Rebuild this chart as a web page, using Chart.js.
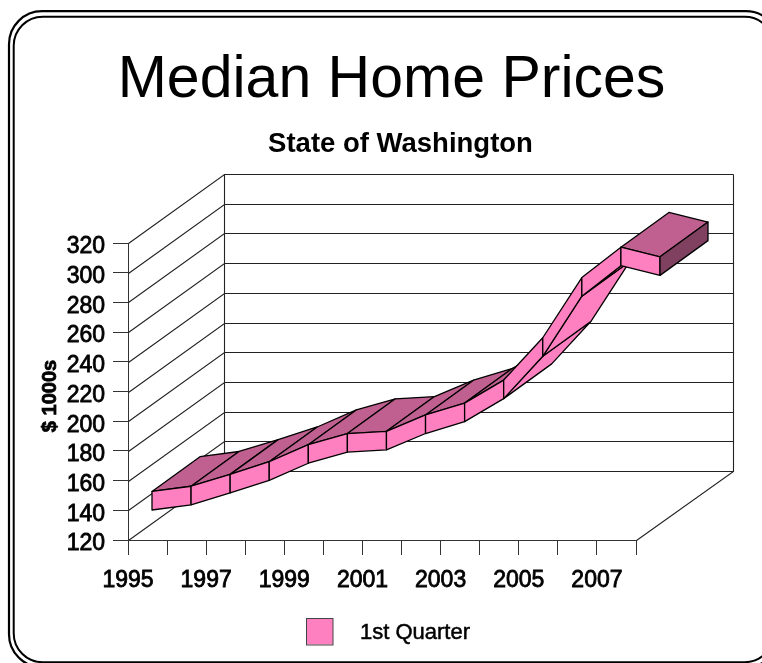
<!DOCTYPE html>
<html>
<head>
<meta charset="utf-8">
<title>Median Home Prices</title>
<script src="https://cdn.jsdelivr.net/npm/chart.js@4/dist/chart.umd.min.js"></script>
<style>
  html, body { margin: 0; padding: 0; background: #fff; overflow: hidden; }
  canvas { display: block; }
</style>
</head>
<body>
<canvas id="chart" width="762" height="663"></canvas>
<script>
const years = [1995, 1996, 1997, 1998, 1999, 2000, 2001, 2002, 2003, 2004, 2005, 2006, 2007, 2008];
const firstQuarter = [141, 144.5, 152.5, 161, 172.5, 180, 181.5, 192.5, 200.5, 216, 244.5, 285, 305.5, 299];
const yearLabels = ['1995', '1997', '1999', '2001', '2003', '2005', '2007'];
const seriesName = '1st Quarter';
const yAxisName = '$ 1000s';

// depth of the 3d box, in pixels
const depthX = 96;
const depthY = 69.5;
const ribbonFront = 0.25;
const ribbonBack = 0.75;
const ribbonThick = 12.5; // in $1000s

const PINK = '#FF80C0';
const PINK_TOP = '#C06090';
const PINK_SIDE = '#804060';
const fontName = '"Liberation Sans", Arial, sans-serif';

function poly(ctx, pts, fill) {
  ctx.beginPath();
  pts.forEach((p, i) => i ? ctx.lineTo(p[0], p[1]) : ctx.moveTo(p[0], p[1]));
  ctx.closePath();
  ctx.fillStyle = fill;
  ctx.fill();
  ctx.stroke();
}

function heavyText(ctx, text, x, y, size, stroke) {
  ctx.fillStyle = '#000';
  ctx.strokeStyle = '#000';
  ctx.lineWidth = stroke;
  ctx.font = size;
  ctx.fillText(text, x, y);
  ctx.strokeText(text, x, y);
}

const frame3d = {
  id: 'frame3d',
  afterLayout(chart) {
    // the two title lines are not centred on the page in the original
    chart.boxes.forEach(b => {
      if (b.options && b.options.text === 'Median Home Prices') { b.left = 10.5; b.right = 772.5; }
      if (b.options && b.options.text === 'State of Washington') { b.left = 19.5; b.right = 781.5; }
    });
  },
  beforeDraw(chart) {
    const ctx = chart.ctx;
    ctx.save();
    ctx.strokeStyle = '#000';
    ctx.lineWidth = 2.2;
    ctx.beginPath();
    ctx.roundRect(9, 11.2, 770, 656, 33);
    ctx.stroke();
    ctx.lineWidth = 2;
    ctx.beginPath();
    ctx.roundRect(13.7, 16.7, 760, 645.5, 29);
    ctx.stroke();
    ctx.restore();
  },
  beforeDatasetsDraw(chart) {
    const ctx = chart.ctx;
    const xs = chart.scales.x;
    const ys = chart.scales.y;
    const l = Math.round(xs.left) + 0.5;
    const r = Math.round(xs.right) + 0.5;
    const backL = l + depthX;
    const backR = r + depthX + 1;

    // walls
    ctx.save();
    ctx.strokeStyle = '#222';
    ctx.lineWidth = 1.1;
    ctx.beginPath();
    ys.ticks.forEach(t => {
      const py = Math.round(ys.getPixelForValue(t.value)) + 0.5;
      const by = Math.round(py - depthY) + 0.5;
      ctx.moveTo(l, py);
      ctx.lineTo(backL, by);
      ctx.lineTo(backR, by);
    });
    const top = Math.round(Math.round(ys.top) + 0.5 - depthY) + 0.5;
    const bot = Math.round(ys.bottom) + 0.5;
    const botBack = Math.round(bot - depthY) + 0.5;
    ctx.moveTo(backL, top);
    ctx.lineTo(backL, botBack);
    ctx.moveTo(backR, top);
    ctx.lineTo(backR, botBack);
    ctx.lineTo(r, bot);
    ctx.stroke();
    ctx.restore();

    // ribbon, painted left to right
    const pts = chart.getDatasetMeta(0).data;
    const thick = ys.getPixelForValue(ys.min) - ys.getPixelForValue(ys.min + ribbonThick);
    const at = (i, z, low) => [
      pts[i].x + z * depthX,
      pts[i].y - z * depthY + (low ? thick : 0)
    ];
    ctx.save();
    ctx.strokeStyle = '#000';
    ctx.lineWidth = 1.3;
    ctx.lineJoin = 'round';
    for (let i = 0; i < pts.length - 1; i++) {
      const sx = pts[i + 1].x - pts[i].x;
      const sy = pts[i + 1].y - pts[i].y;
      const dz = ribbonBack - ribbonFront;
      const topVisible = sx * (-depthY * dz) - sy * (depthX * dz) < 0;
      if (topVisible) {
        poly(ctx, [at(i, ribbonFront), at(i, ribbonBack), at(i + 1, ribbonBack), at(i + 1, ribbonFront)], PINK_TOP);
      } else {
        poly(ctx, [at(i, ribbonFront, true), at(i, ribbonBack, true), at(i + 1, ribbonBack, true), at(i + 1, ribbonFront, true)], PINK);
      }
      poly(ctx, [at(i, ribbonFront), at(i + 1, ribbonFront), at(i + 1, ribbonFront, true), at(i, ribbonFront, true)], PINK);
    }
    const last = pts.length - 1;
    poly(ctx, [at(last, ribbonFront), at(last, ribbonBack), at(last, ribbonBack, true), at(last, ribbonFront, true)], PINK_SIDE);
    ctx.restore();
  },
  afterDraw(chart) {
    const ctx = chart.ctx;
    ctx.save();
    // legend, the gap between swatch and text is wider than the stock legend allows
    ctx.fillStyle = PINK;
    ctx.strokeStyle = '#444';
    ctx.lineWidth = 1;
    ctx.fillRect(307, 618.5, 26, 26);
    ctx.strokeRect(306.5, 618.5, 26.5, 26.5);
    ctx.textBaseline = 'middle';
    heavyText(ctx, chart.data.datasets[0].label, 360, 633, '22px ' + fontName, 0.5);
    // y axis name sits lower than the axis middle, so not the scale title
    ctx.translate(50, 396);
    ctx.rotate(-Math.PI / 2);
    ctx.textAlign = 'center';
    heavyText(ctx, yAxisName, 0, 0, 'bold 20px ' + fontName, 0.8);
    ctx.restore();
  }
};

new Chart(document.getElementById('chart'), {
  type: 'line',
  data: {
    datasets: [{
      label: seriesName,
      data: years.map((y, i) => ({ x: y, y: firstQuarter[i] })),
      showLine: false,
      pointRadius: 0,
      pointHoverRadius: 0,
      borderColor: PINK,
      backgroundColor: PINK
    }]
  },
  options: {
    responsive: false,
    animation: false,
    layout: { padding: { left: 0, right: 126, top: 0, bottom: 0 } },
    plugins: {
      legend: { display: false },
      tooltip: { enabled: false },
      title: {
        display: true,
        text: 'Median Home Prices',
        color: '#000',
        font: { family: fontName, size: 59, weight: 'normal', lineHeight: 1 },
        padding: { top: 51, bottom: 0 }
      },
      subtitle: {
        display: true,
        text: 'State of Washington',
        color: '#000',
        font: { family: fontName, size: 27.5, weight: 'bold', lineHeight: 1 },
        padding: { top: 21, bottom: 84.5 }
      }
    },
    scales: {
      x: {
        type: 'linear',
        min: 1995,
        max: 2008,
        afterFit: s => { s.height = 123; },
        border: { display: true, color: '#333', width: 1 },
        grid: { drawOnChartArea: false, drawTicks: true, tickLength: 15, tickColor: '#333' },
        ticks: {
          stepSize: 1,
          autoSkip: false,
          maxRotation: 0,
          padding: 12,
          color: '#000',
          font: { family: fontName, size: 23 },
          textStrokeColor: '#000',
          textStrokeWidth: 0.8,
          callback: v => yearLabels.includes(String(v)) ? String(v) : ''
        }
      },
      y: {
        min: 120,
        max: 320,
        afterFit: s => { s.width = 128; },
        border: { display: true, color: '#333', width: 1 },
        grid: { drawOnChartArea: false, drawTicks: true, tickLength: 15, tickColor: '#333' },
        ticks: {
          stepSize: 20,
          autoSkip: false,
          padding: 8,
          labelOffset: 4,
          color: '#000',
          font: { family: fontName, size: 23 },
          textStrokeColor: '#000',
          textStrokeWidth: 0.8
        }
      }
    }
  },
  plugins: [frame3d]
});
</script>
</body>
</html>
